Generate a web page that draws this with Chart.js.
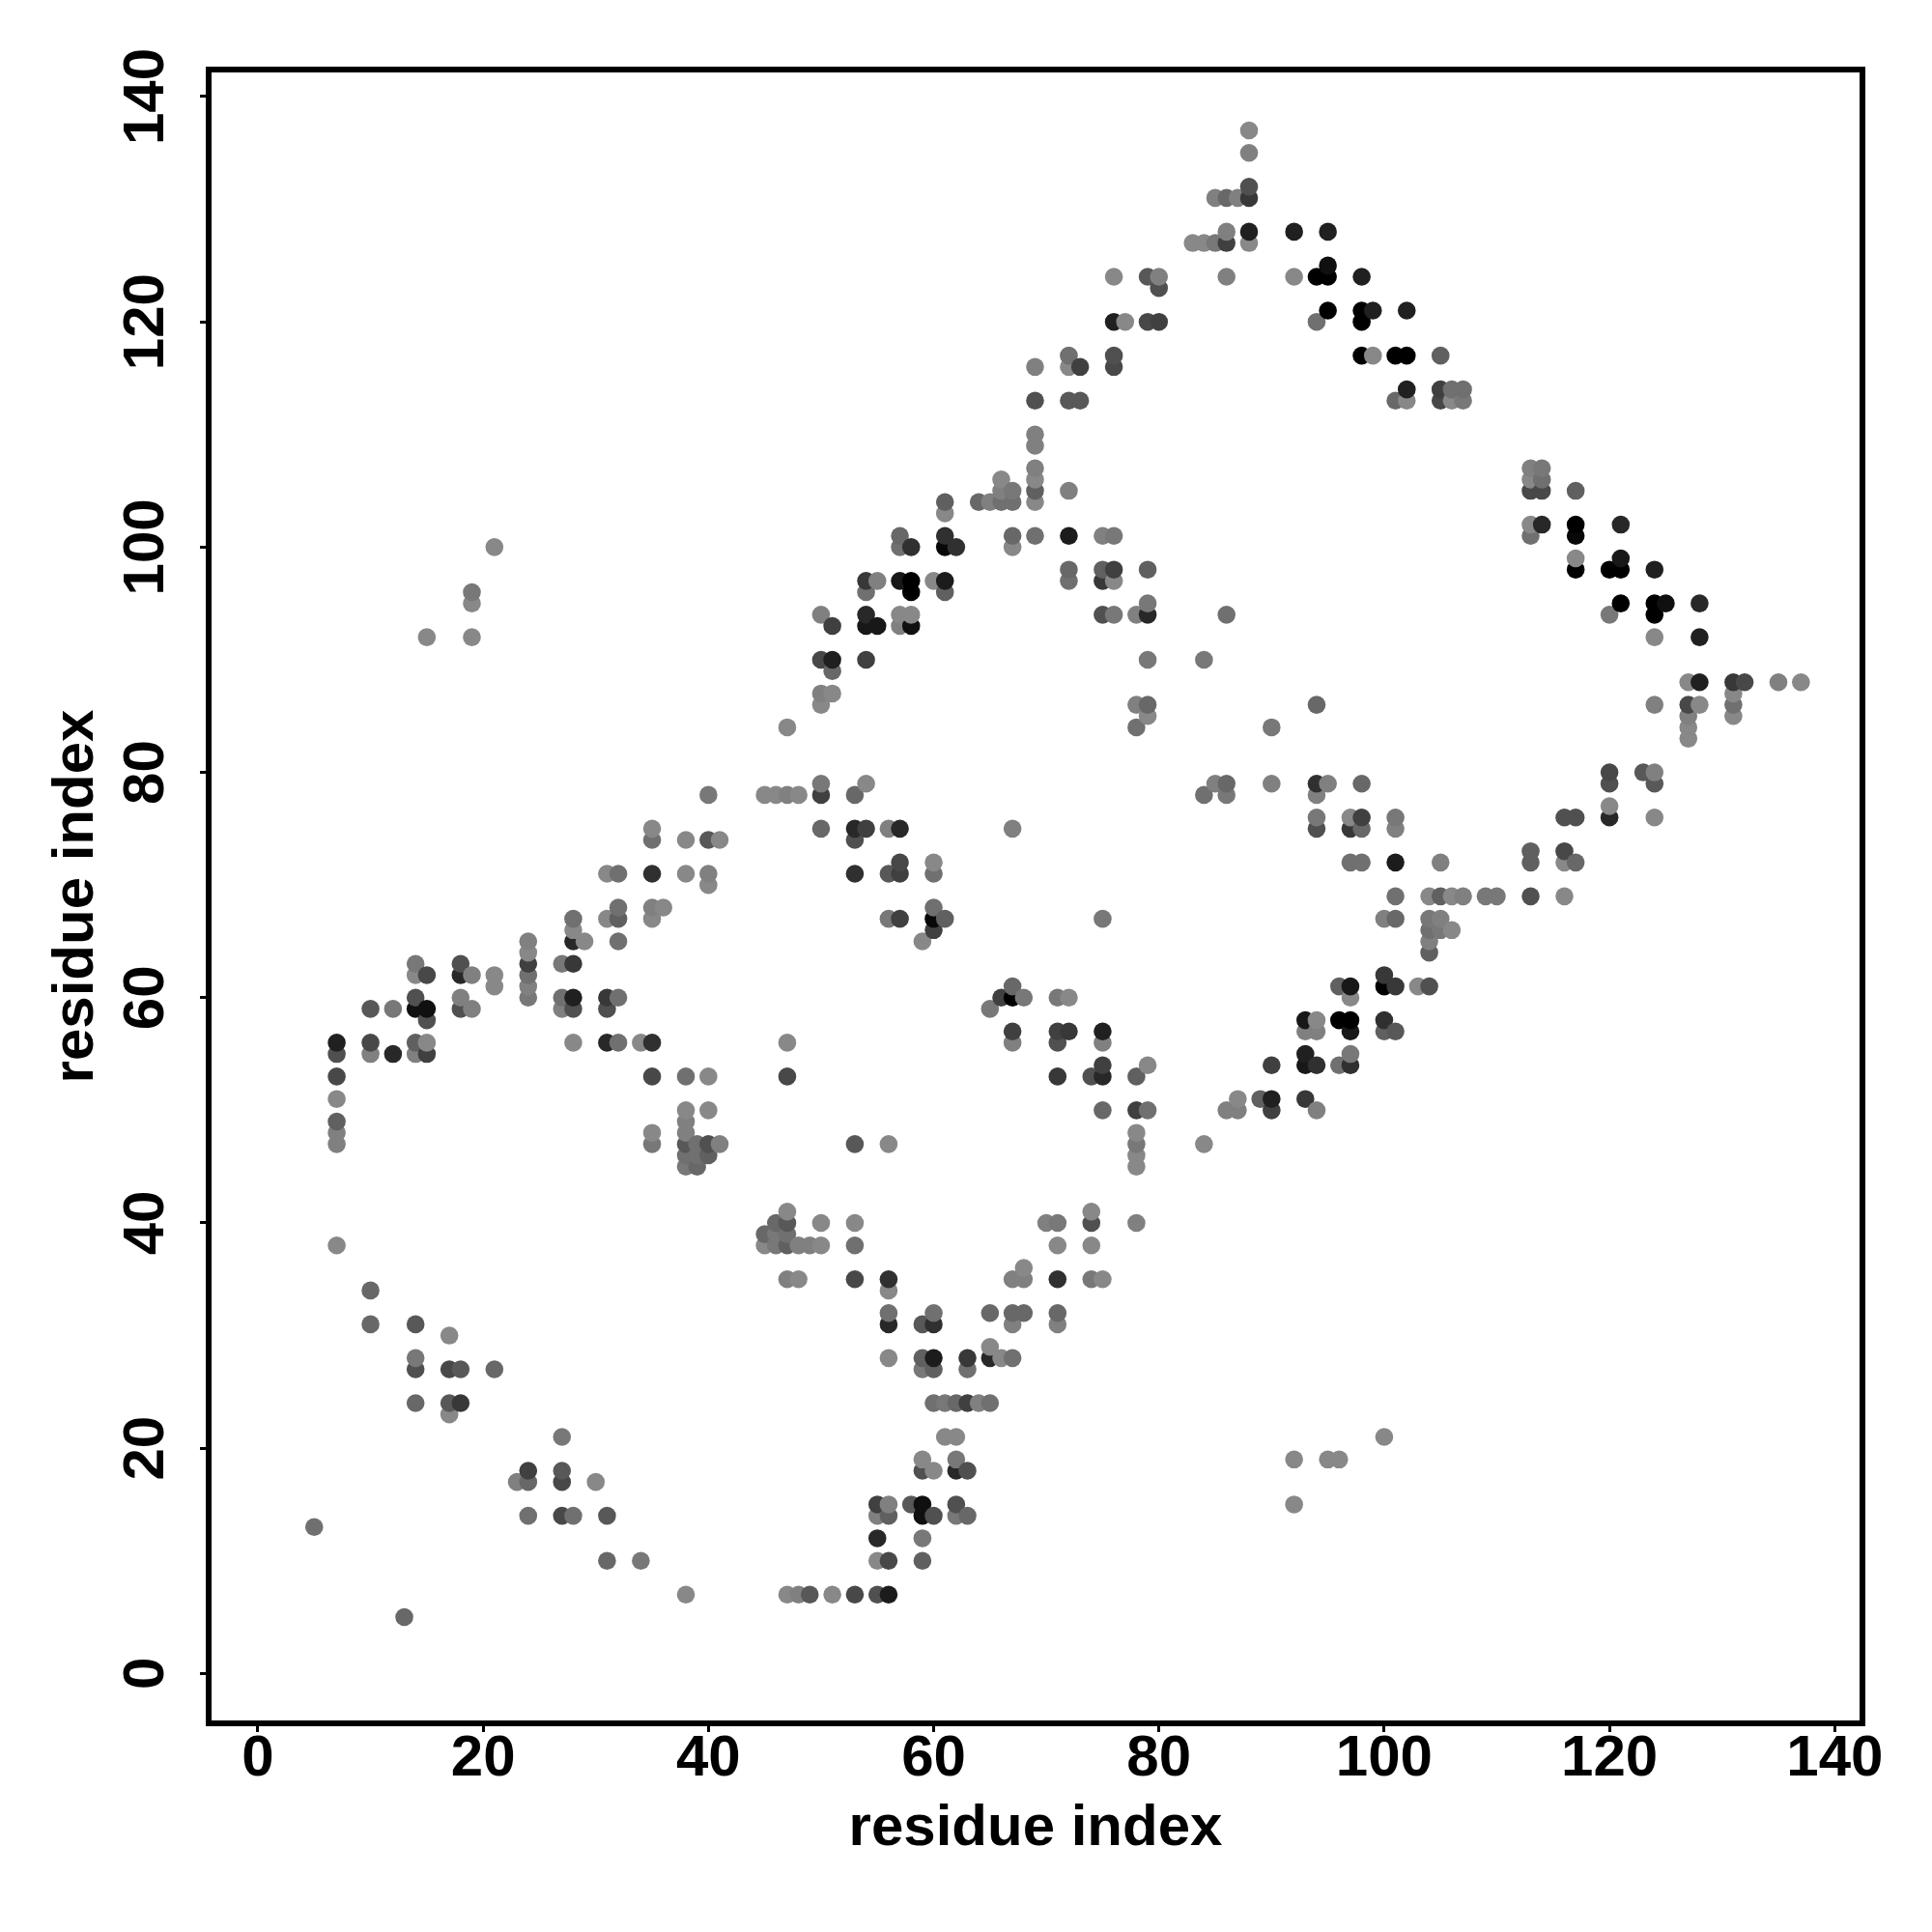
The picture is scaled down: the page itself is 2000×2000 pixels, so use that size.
<!DOCTYPE html>
<html lang="en">
<head>
  <meta charset="UTF-8">
  <title>Residue contact map</title>
  <style>
    body { margin: 0; background-color: #ffffff; }
    canvas { display: block; }
  </style>
</head>
<body>

  <canvas id="contactChart" width="2000" height="2000"></canvas>

  <script src="https://cdn.jsdelivr.net/npm/chart.js"></script>

  <script>
    // residue on the x axis, one entry per column
    const residueX = [
      5, 7, 10, 12, 13, 14, 15, 17, 18, 19, 21, 23, 24, 27, 28, 29, 30, 31, 32, 34,
      35, 36, 38, 39, 40, 41, 45, 46, 47, 48, 49, 50, 51, 53, 54, 55, 56, 57, 58, 59,
      60, 61, 62, 63, 64, 65, 66, 67, 68, 69, 70, 71, 72, 73, 74, 75, 76, 77, 78, 79,
      80, 83, 84, 85, 86, 87, 88, 89, 90, 92, 93, 94, 95, 96, 97, 98, 99, 100, 101, 102,
      103, 104, 105, 106, 107, 109, 110, 113, 114, 116, 117, 120, 121, 123, 124, 125, 127, 128, 131, 132,
      135, 137
    ];

    // residues on the y axis for each column above
    const residueY = [
      [13],
      [38, 47, 48, 49, 51, 53, 55, 56],
      [31, 34, 55, 56, 59],
      [55, 59],
      [5],
      [24, 27, 28, 31, 55, 56, 59, 60, 62, 63],
      [55, 56, 58, 59, 62, 92],
      [23, 24, 27, 30],
      [24, 27, 59, 60, 62, 63],
      [59, 62, 92, 95, 96],
      [27, 61, 62, 100],
      [17],
      [14, 17, 18, 60, 61, 62, 63, 64, 65],
      [14, 17, 18, 21, 59, 60, 63],
      [14, 56, 59, 60, 63, 65, 66, 67],
      [65],
      [17],
      [10, 14, 56, 59, 60, 67, 71],
      [56, 60, 65, 67, 68, 71],
      [10, 56],
      [47, 48, 53, 56, 67, 68, 71, 74, 75],
      [68],
      [7, 45, 46, 47, 48, 49, 50, 53, 71, 74],
      [45, 46, 47],
      [46, 47, 50, 53, 70, 71, 74, 78],
      [47, 74],
      [38, 39, 78],
      [38, 39, 40, 78],
      [7, 35, 38, 39, 40, 41, 53, 56, 78, 84],
      [7, 35, 38, 78],
      [7, 38],
      [38, 40, 75, 78, 79, 86, 87, 90, 94],
      [7, 87, 89, 90, 93],
      [7, 35, 38, 40, 47, 71, 74, 75, 78],
      [75, 79, 90, 93, 94, 96, 97],
      [7, 10, 12, 14, 15, 93, 97],
      [7, 10, 14, 15, 28, 31, 32, 34, 35, 47, 67, 71, 75],
      [67, 71, 72, 75, 93, 94, 97, 100, 101],
      [15, 93, 94, 96, 97, 100],
      [10, 12, 14, 15, 18, 19, 27, 28, 31, 65],
      [14, 18, 24, 27, 28, 31, 32, 66, 67, 68, 71, 72, 97],
      [21, 24, 67, 96, 97, 100, 101, 103, 104],
      [14, 15, 18, 19, 21, 24, 100],
      [14, 18, 24, 27, 28],
      [24, 104],
      [24, 28, 29, 32, 59, 104],
      [28, 60, 104, 105, 106],
      [28, 31, 32, 35, 56, 57, 60, 61, 75, 100, 101, 104, 105],
      [32, 35, 36, 60],
      [101, 104, 105, 106, 107, 109, 110, 113, 116],
      [40],
      [31, 32, 35, 38, 40, 53, 56, 57, 60],
      [57, 60, 97, 98, 101, 105, 113, 116, 117],
      [113, 116],
      [35, 38, 40, 41, 53],
      [35, 50, 53, 54, 56, 57, 67, 94, 97, 98, 101],
      [94, 97, 98, 101, 116, 117, 120, 124],
      [120],
      [40, 45, 46, 47, 48, 50, 53, 84, 86, 94],
      [50, 54, 85, 86, 90, 94, 95, 98, 120, 124],
      [120, 123, 124],
      [127],
      [47, 78, 90, 127],
      [79, 127, 131],
      [50, 78, 79, 94, 124, 127, 128, 131],
      [50, 51, 131],
      [127, 128, 131, 132, 135, 137],
      [51],
      [50, 51, 54, 79, 84],
      [15, 19, 124, 128],
      [51, 54, 55, 57, 58],
      [50, 54, 57, 58, 75, 76, 78, 79, 86, 120, 124],
      [19, 79, 121, 124, 125, 128],
      [19, 54, 58, 61],
      [54, 55, 57, 58, 60, 61, 72, 75, 76],
      [72, 75, 76, 79, 117, 120, 121, 124],
      [117, 121],
      [21, 57, 58, 61, 62, 67],
      [57, 61, 67, 69, 72, 75, 76, 113, 117],
      [113, 114, 117, 121],
      [61],
      [61, 64, 65, 66, 67, 69],
      [66, 67, 69, 72, 113, 114, 117],
      [66, 69, 113, 114],
      [69, 113, 114],
      [69],
      [69],
      [69, 72, 73, 101, 102, 105, 106, 107],
      [102, 105, 106, 107],
      [69, 72, 73, 76],
      [72, 76, 98, 99, 101, 102, 105],
      [76, 77, 79, 80, 94, 98],
      [95, 98, 99, 102],
      [80],
      [76, 79, 80, 86, 92, 94, 95, 98],
      [95],
      [83, 84, 85, 86, 88],
      [86, 88, 92, 95],
      [85, 86, 87, 88],
      [88],
      [88],
      [88]
    ];

    // grey level (0 black .. 255 white) of each contact above
    const contactShade = [
      [112],
      [136, 128, 128, 96, 136, 72, 80, 32],
      [104, 104, 128, 72, 88],
      [40, 120],
      [104],
      [104, 80, 120, 88, 128, 96, 16, 80, 136, 120],
      [64, 136, 80, 16, 72, 136],
      [136, 88, 72, 136],
      [56, 88, 80, 128, 40, 80],
      [128, 128, 136, 136, 120],
      [104, 136, 136, 136],
      [128],
      [112, 104, 64, 120, 128, 112, 64, 136, 128],
      [72, 72, 88, 120, 128, 112, 120],
      [112, 136, 80, 32, 56, 40, 136, 112],
      [136],
      [136],
      [104, 88, 40, 80, 56, 136, 136],
      [112, 112, 112, 96, 112, 112],
      [120, 136],
      [120, 136, 72, 48, 136, 128, 48, 112, 136],
      [136],
      [136, 120, 112, 88, 128, 128, 136, 112, 136, 136],
      [104, 112, 112],
      [96, 80, 136, 136, 136, 128, 88, 120],
      [128, 136],
      [136, 104, 136],
      [120, 120, 104, 136],
      [136, 128, 96, 112, 88, 136, 72, 136, 128, 136],
      [128, 136, 128, 136],
      [88, 128],
      [136, 136, 104, 64, 120, 136, 128, 72, 128],
      [136, 136, 104, 32, 64],
      [72, 72, 112, 136, 88, 48, 80, 40, 104],
      [64, 136, 64, 24, 40, 112, 56],
      [80, 136, 40, 128, 64, 24, 128],
      [28, 72, 96, 128, 136, 40, 112, 136, 48, 136, 120, 88, 128],
      [64, 64, 72, 40, 128, 136, 24, 112, 104],
      [88, 16, 136, 0, 0, 48],
      [96, 120, 16, 16, 80, 136, 120, 96, 88, 136],
      [80, 136, 112, 96, 28, 48, 112, 64, 8, 112, 112, 136, 136],
      [136, 120, 96, 96, 28, 8, 48, 136, 96],
      [120, 80, 40, 120, 136, 104, 48],
      [104, 80, 64, 112, 56],
      [128, 104],
      [112, 40, 136, 104, 120, 128],
      [136, 64, 112, 128, 136],
      [112, 128, 104, 128, 128, 64, 0, 104, 128, 136, 104, 112, 120],
      [104, 128, 136, 120],
      [112, 136, 96, 136, 128, 128, 128, 80, 128],
      [128],
      [128, 104, 48, 136, 120, 56, 80, 64, 120],
      [56, 136, 112, 104, 28, 128, 88, 136, 112],
      [88, 64],
      [120, 136, 80, 136, 80],
      [136, 104, 40, 64, 128, 32, 120, 80, 56, 96, 128],
      [120, 136, 64, 120, 72, 80, 32, 136],
      [136],
      [128, 136, 136, 120, 136, 64, 96, 112, 128, 128],
      [112, 136, 136, 104, 120, 40, 120, 96, 72, 88],
      [64, 80, 128],
      [136],
      [136, 112, 120, 136],
      [128, 120, 128],
      [128, 120, 104, 112, 128, 64, 128, 104],
      [128, 136, 128],
      [136, 32, 56, 80, 128, 136],
      [96],
      [64, 32, 64, 128, 120],
      [136, 136, 136, 32],
      [56, 24, 32, 128, 24],
      [128, 48, 128, 136, 80, 120, 128, 48, 104, 112, 0],
      [136, 128, 0, 0, 16, 32],
      [136, 112, 0, 96],
      [48, 120, 24, 0, 136, 24, 112, 56, 136],
      [112, 104, 64, 104, 0, 0, 0, 32],
      [136, 32],
      [136, 96, 48, 0, 56, 128],
      [88, 56, 104, 112, 28, 128, 120, 104, 0],
      [136, 32, 0, 32],
      [136],
      [80, 96, 128, 112, 120, 136],
      [120, 128, 96, 128, 72, 64, 96],
      [136, 136, 136, 112],
      [128, 120, 112],
      [120],
      [120],
      [80, 96, 96, 112, 136, 72, 136, 128],
      [40, 72, 112, 120],
      [136, 136, 72, 80],
      [104, 80, 0, 136, 8, 0, 96],
      [40, 136, 80, 72, 120, 0],
      [0, 0, 24, 40],
      [88],
      [136, 88, 128, 128, 136, 0, 0, 32],
      [16],
      [136, 136, 128, 72, 136],
      [136, 32, 32, 40],
      [136, 112, 136, 56],
      [72],
      [128],
      [136]
    ];

    const tickValues = [0, 20, 40, 60, 80, 100, 120, 140];
    const axisTitle = "residue index";

    const points = [];
    const pointColors = [];
    residueX.forEach((x, col) => {
      residueY[col].forEach((y, row) => {
        const g = contactShade[col][row];
        points.push({ x: x, y: y });
        pointColors.push(`rgb(${g}, ${g}, ${g})`);
      });
    });

    // box round the plot, on all four sides
    const framePlugin = {
      id: "frame",
      afterDraw(chart) {
        const { ctx, chartArea } = chart;
        ctx.save();
        ctx.strokeStyle = "#000000";
        ctx.lineWidth = 6;
        ctx.lineJoin = "miter";
        ctx.strokeRect(chartArea.left, chartArea.top,
          chartArea.right - chartArea.left, chartArea.bottom - chartArea.top);
        ctx.restore();
      }
    };

    const tickFont = { family: "Liberation Sans", size: 60, weight: "bold" };

    function useTickValues(scale) {
      scale.ticks = tickValues.map(v => ({ value: v }));
    }

    new Chart(document.getElementById("contactChart").getContext("2d"), {
      type: "scatter",
      data: {
        datasets: [{
          data: points,
          pointRadius: 9.3,
          pointBorderWidth: 0,
          pointBackgroundColor: pointColors,
          showLine: false
        }]
      },
      options: {
        responsive: false,
        animation: false,
        events: [],
        layout: { padding: { top: 72, right: 72, left: 0, bottom: 0 } },
        plugins: {
          legend: { display: false },
          tooltip: { enabled: false }
        },
        scales: {
          x: {
            type: "linear",
            min: -4.37,
            max: 142.46,
            afterBuildTicks: useTickValues,
            afterFit(scale) { scale.height = 216; },
            border: { display: false },
            grid: { drawOnChartArea: false, tickLength: 9, tickWidth: 3, tickColor: "#000000" },
            ticks: { color: "#000000", font: tickFont, padding: -8, maxRotation: 0, autoSkip: false },
            title: {
              display: true,
              text: axisTitle,
              color: "#000000",
              font: tickFont,
              padding: { top: 0, bottom: 71 }
            }
          },
          y: {
            type: "linear",
            min: -4.43,
            max: 142.4,
            afterBuildTicks: useTickValues,
            afterFit(scale) { scale.width = 216; },
            border: { display: false },
            grid: { drawOnChartArea: false, tickLength: 9, tickWidth: 3, tickColor: "#000000" },
            ticks: {
              color: "#000000",
              font: tickFont,
              padding: 4,
              minRotation: 90,
              maxRotation: 90,
              crossAlign: "center",
              autoSkip: false
            },
            title: {
              display: true,
              text: axisTitle,
              color: "#000000",
              font: tickFont,
              padding: { top: 43, bottom: 0 }
            }
          }
        }
      },
      plugins: [framePlugin]
    });
  </script>

</body>
</html>
